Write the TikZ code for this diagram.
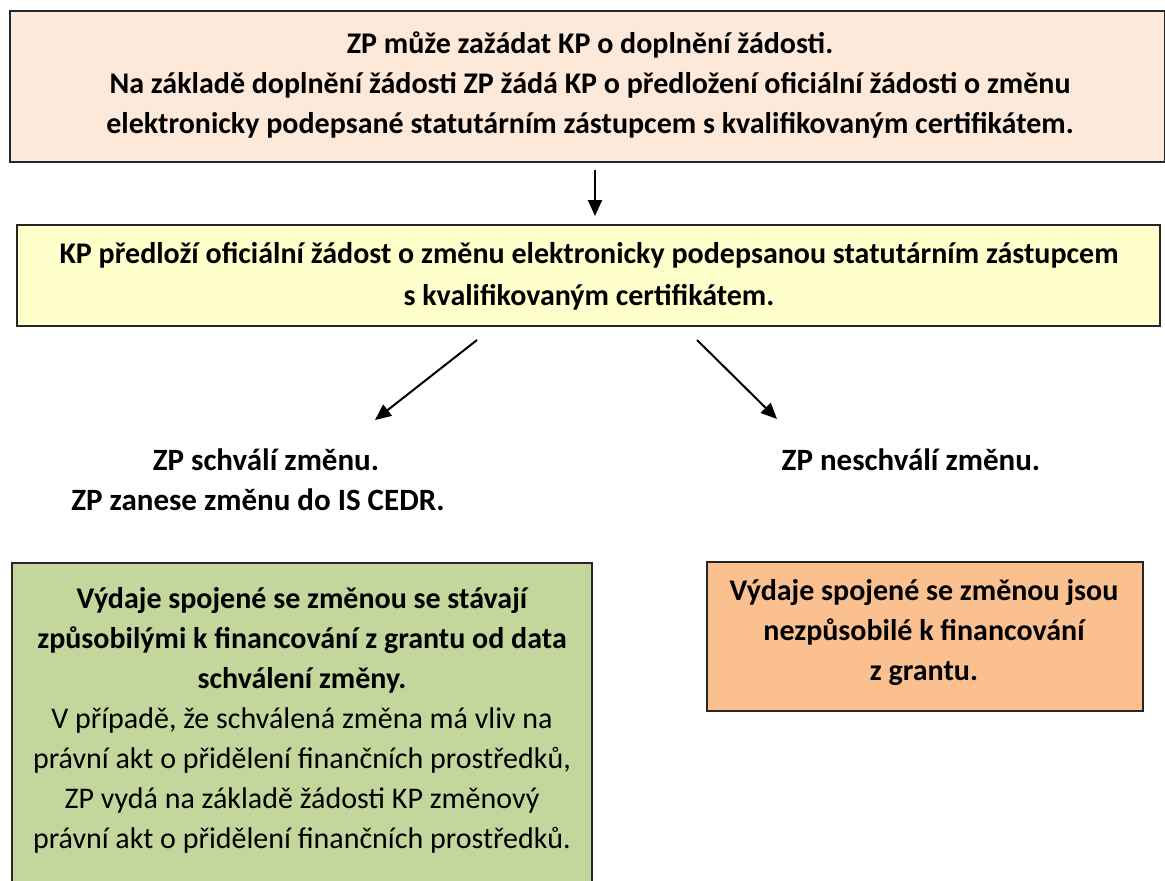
\documentclass[tikz,border=0pt]{standalone}
\usepackage{fontspec}
\setmainfont{Carlito}
\usetikzlibrary{arrows.meta}
\definecolor{peach}{HTML}{FDE9D9}
\definecolor{lightyel}{HTML}{FFFFCC}
\definecolor{olivegr}{HTML}{C3D69B}
\definecolor{orangefill}{HTML}{FAC090}
\tikzset{
  box/.style={draw=black!85, line width=1.6pt, rectangle, inner sep=0pt},
  txt/.style={align=center, inner sep=0pt, font=\fontsize{30}{40}\selectfont\bfseries},
  txtr/.style={align=center, inner sep=0pt, font=\fontsize{30}{40}\selectfont},
  arr/.style={line width=2pt, -{Triangle[length=16pt,width=14pt]}}
}
\begin{document}
\begin{tikzpicture}[x=1pt,y=-1pt]
\useasboundingbox (0,0) rectangle (1165,881);
\clip (0,0) rectangle (1165,881);
% boxes
\node[box, fill=peach, minimum width=1155, minimum height=151] (top) at (587.5,86.5) {};
\node[box, fill=lightyel, minimum width=1143, minimum height=101] (mid) at (588.5,275.5) {};
\node[box, fill=olivegr, minimum width=580, minimum height=340] (green) at (302,733) {};
\node[box, fill=orangefill, minimum width=436, minimum height=149] (orange) at (925,636.5) {};
% texts
\node[txt] (toptxt) at (590,85) {ZP může zažádat KP o doplnění žádosti.\\Na základě doplnění žádosti ZP žádá KP o předložení oficiální žádosti o změnu\\elektronicky podepsané statutárním zástupcem s kvalifikovaným certifikátem.};
\node[txt, font=\fontsize{30}{42}\selectfont\bfseries] (midtxt) at (589,276) {KP předloží oficiální žádost o změnu elektronicky podepsanou statutárním zástupcem\\s kvalifikovaným certifikátem.};
\node[txt, font=\fontsize{31}{40}\selectfont\bfseries] (yes) at (258,480) {\hspace*{16pt}ZP schválí změnu.\\ZP zanese změnu do IS CEDR.};
\node[txt, font=\fontsize{31}{40}\selectfont\bfseries] (no) at (911,460) {ZP neschválí změnu.};
\node[txt] (greentxt1) at (302,640) {Výdaje spojené se změnou se stávají\\způsobilými k financování z grantu od data\\schválení změny.};
\node[txtr] (greentxt2) at (302,780) {V případě, že schválená změna má vliv na\\právní akt o přidělení finančních prostředků,\\ZP vydá na základě žádosti KP změnový\\právní akt o přidělení finančních prostředků.};
\node[txt] (orangetxt) at (924,633) {Výdaje spojené se změnou jsou\\nezpůsobilé k financování\\z grantu.};
% connectors
\coordinate (a1s) at (595,170);
\coordinate (a1e) at (595,216);
\coordinate (a2s) at (477,340);
\coordinate (a2e) at (375,420);
\coordinate (a3s) at (697,340);
\coordinate (a3e) at (777,419);
\draw[arr] (a1s) -- (a1e);
\draw[arr] (a2s) -- (a2e);
\draw[arr] (a3s) -- (a3e);
\end{tikzpicture}
\end{document}
